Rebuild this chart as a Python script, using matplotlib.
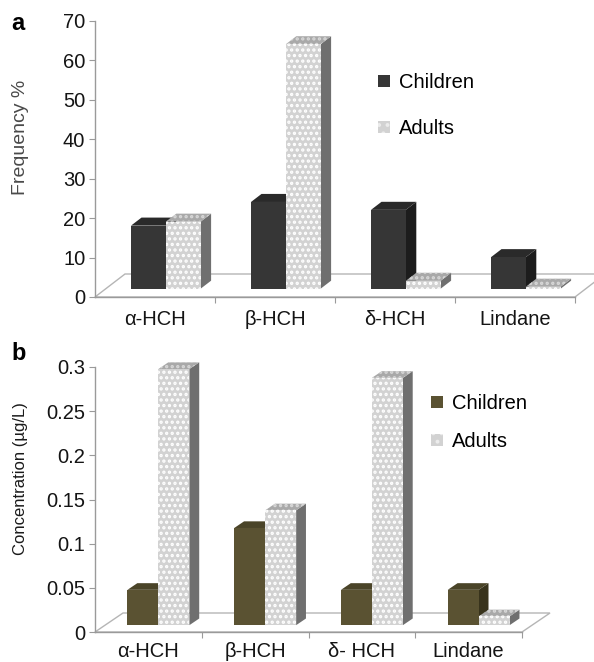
import matplotlib
matplotlib.use("Agg")
import matplotlib.pyplot as plt
from matplotlib.patches import Polygon, Patch

plt.rcParams["font.family"] = ["Liberation Sans", "DejaVu Sans"]
plt.rcParams["hatch.linewidth"] = 1.6

# ---- data ----
compounds_a = ["α-HCH", "β-HCH", "δ-HCH", "Lindane"]
freq_children = [16, 22, 20, 8]
freq_adults = [17, 62, 2, 0.5]
yticks_a = [0, 10, 20, 30, 40, 50, 60, 70]
ytick_labels_a = ["0", "10", "20", "30", "40", "50", "60", "70"]

compounds_b = ["α-HCH", "β-HCH", "δ- HCH", "Lindane"]
conc_children = [0.04, 0.11, 0.04, 0.04]
conc_adults = [0.29, 0.13, 0.28, 0.01]
yticks_b = [0, 0.05, 0.1, 0.15, 0.2, 0.25, 0.3]
ytick_labels_b = ["0", "0.05", "0.1", "0.15", "0.2", "0.25", "0.3"]

series_names = ["Children", "Adults"]

W, H = 594, 662
DPI = 100
fig = plt.figure(figsize=(W / DPI, H / DPI), dpi=DPI)


def px_axes(left, right, top, bottom):
    return fig.add_axes([left / W, 1 - bottom / H, (right - left) / W, (bottom - top) / H])


ADULT_STYLE = dict(front="#d2d2d2", top="#a9a9a9", side="#6f6f6f")


def draw_panel(ax, cats, children, adults, ytop, yticks, yticklabels,
               child_style, floor_px, xpad=9.5, width=0.29, f0=0.36, f1=0.71):
    n = len(cats)
    ax.set_xlim(-0.5, n - 0.5)
    ax.set_ylim(0, ytop)
    ax.set_facecolor("none")

    # pixel -> data conversion for the 3-D depth
    p0 = ax.transData.transform((0, 0))
    p1 = ax.transData.transform((1, 1))
    sx, sy = p1[0] - p0[0], p1[1] - p0[1]
    Dx, Dy = floor_px[0] / sx, floor_px[1] / sy

    # floor
    floor = Polygon([(-0.5, 0), (n - 0.5, 0), (n - 0.5 + Dx, Dy), (-0.5 + Dx, Dy)],
                    closed=True, facecolor="white", edgecolor="#b5b5b5",
                    lw=1.0, clip_on=False, zorder=1)
    ax.add_patch(floor)

    ddx, ddy = (f1 - f0) * Dx, (f1 - f0) * Dy
    base = f0 * Dy
    styles = [child_style, ADULT_STYLE]
    for i in range(n):
        for s, vals in enumerate([children, adults]):
            v = vals[i]
            st = styles[s]
            x0 = i - width + s * width + f0 * Dx
            x1 = x0 + width
            top = base + v
            hatch = "..." if s == 1 else None
            ec = "white" if s == 1 else st["front"]
            z = 3 + i * 2 + s
            side = Polygon([(x1, base), (x1 + ddx, base + ddy), (x1 + ddx, top + ddy), (x1, top)],
                           closed=True, facecolor=st["side"], edgecolor="none",
                           clip_on=False, zorder=z)
            topf = Polygon([(x0, top), (x1, top), (x1 + ddx, top + ddy), (x0 + ddx, top + ddy)],
                           closed=True, facecolor=st["top"],
                           edgecolor=("#d8d8d8" if s == 1 else "none"),
                           hatch=hatch, lw=0, clip_on=False, zorder=z)
            ax.add_patch(side)
            ax.add_patch(topf)
            bars = ax.bar([x0], [v], width=width, bottom=base, align="edge",
                          color=st["front"], edgecolor=ec, lw=0, hatch=hatch,
                          zorder=z)
            for b in bars:
                b.set_clip_on(False)

    # axes styling
    for sp in ["top", "right"]:
        ax.spines[sp].set_visible(False)
    for sp in ["left", "bottom"]:
        ax.spines[sp].set_color("#9a9a9a")
        ax.spines[sp].set_linewidth(1.0)
        ax.spines[sp].set_zorder(2)
    ax.set_yticks(yticks)
    ax.set_yticklabels(yticklabels)
    ax.tick_params(axis="y", direction="out", length=4, color="#9a9a9a",
                   labelsize=14.5, pad=3, labelcolor="#141414")
    ax.set_xticks([k + 0.5 for k in range(n)])
    ax.set_xticklabels([])
    ax.tick_params(axis="x", which="major", direction="out", length=4, color="#9a9a9a")
    ax.set_xticks(range(n), minor=True)
    ax.set_xticklabels(cats, minor=True)
    ax.tick_params(axis="x", which="minor", length=0, labelsize=14.5, pad=xpad,
                   labelcolor="#141414")


# ---- panel a ----
ax_a = px_axes(95, 575, 21, 297)
draw_panel(ax_a, compounds_a, freq_children, freq_adults, 70, yticks_a, ytick_labels_a,
           dict(front="#363636", top="#2a2a2a", side="#1c1c1c"), floor_px=(30, 23))
fig.text(21 / W, 1 - 137 / H, "Frequency %", rotation=90, ha="center", va="center",
         fontsize=14, color="#4a4a4a")
fig.text(11 / W, 1 - 24 / H, "a", fontsize=17, fontweight="bold", ha="left", va="center")
ax_a.legend(handles=[Patch(facecolor="#363636", edgecolor="none"),
                     Patch(facecolor="#d2d2d2", edgecolor="#ececec", hatch="..", lw=0)],
            labels=series_names, loc="upper left",
            bbox_to_anchor=(378 / W, 1 - 73 / H), bbox_transform=fig.transFigure,
            frameon=False, fontsize=14.5, handlelength=0.6, handleheight=0.6,
            handletextpad=0.45, labelspacing=1.35, borderpad=0, borderaxespad=0)

# ---- panel b ----
ax_b = px_axes(95, 522, 367, 632)
draw_panel(ax_b, compounds_b, conc_children, conc_adults, 0.3, yticks_b, ytick_labels_b,
           dict(front="#5a5232", top="#4a4428", side="#38331c"), floor_px=(28, 19),
           xpad=7)
fig.text(21 / W, 1 - 479 / H, "Concentration (µg/L)", rotation=90, ha="center",
         va="center", fontsize=12, color="#1a1a1a")
fig.text(11 / W, 1 - 354 / H, "b", fontsize=17, fontweight="bold", ha="left", va="center")
ax_b.legend(handles=[Patch(facecolor="#5a5232", edgecolor="none"),
                     Patch(facecolor="#d2d2d2", edgecolor="#ececec", hatch="..", lw=0)],
            labels=series_names, loc="upper left",
            bbox_to_anchor=(431 / W, 1 - 394 / H), bbox_transform=fig.transFigure,
            frameon=False, fontsize=14.5, handlelength=0.6, handleheight=0.6,
            handletextpad=0.45, labelspacing=0.95, borderpad=0, borderaxespad=0)

fig.savefig("out.png", dpi=DPI, facecolor="white")
